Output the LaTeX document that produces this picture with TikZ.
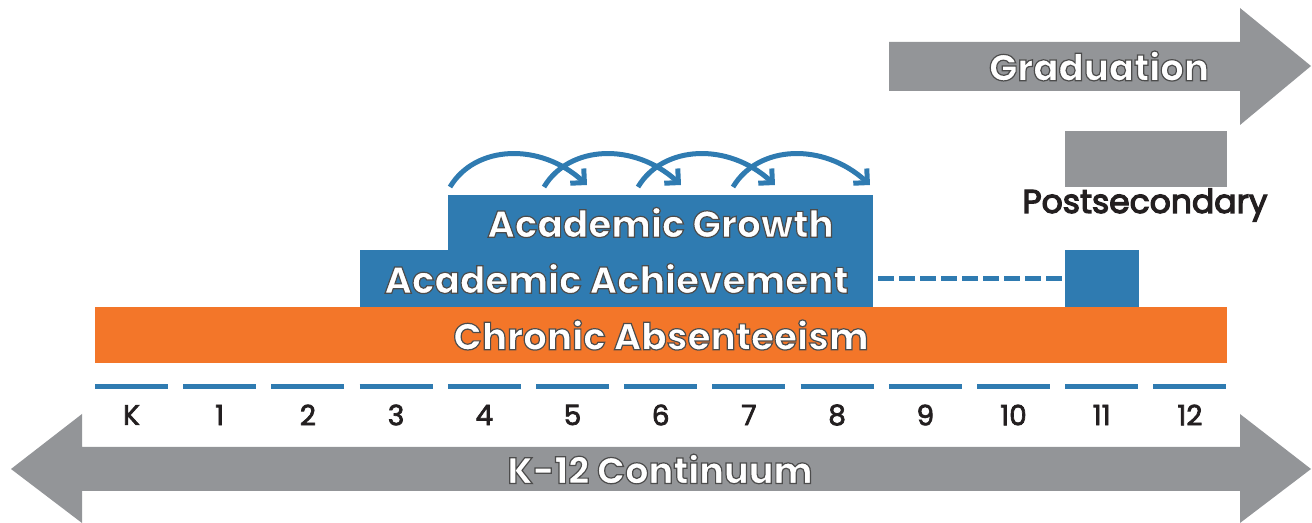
\documentclass[tikz,border=0pt]{standalone}
\usepackage{fontspec}
\setmainfont{Poppins}
\usetikzlibrary{arrows.meta}

\definecolor{cblue}{HTML}{2F7BB1}
\definecolor{corange}{HTML}{F37629}
\definecolor{cgray}{HTML}{939598}
\definecolor{ctext}{HTML}{231F20}

% white letters with a thin dark rim
\newcommand{\rimtext}[1]{{\bfseries\color{white}\special{pdf:literal direct 2 Tr 0.6 w 0.3 0.3 0.3 RG}#1\special{pdf:literal direct 0 Tr}}}
% slightly heavier dark letters
\newcommand{\heavytext}[2]{{\color{ctext}\special{pdf:literal direct 2 Tr #1 w}#2\special{pdf:literal direct 0 Tr}}}

\tikzset{
  band/.style={inner sep=0pt, outer sep=0pt, anchor=north west},
  bandtext/.style={font=\fontsize{18.7}{19}\selectfont},
  gradeseg/.style={cblue, line width=2.5pt},
  gradelbl/.style={font=\fontsize{14}{14}\selectfont, text=ctext},
  hop/.style={cblue, line width=2.5pt, -{Straight Barb[length=5pt, width=10pt]}},
}

\begin{document}
\begin{tikzpicture}[x=0.5pt, y=-0.5pt]
\useasboundingbox (0,0) rectangle (1312,523);

% graduation arrow
\fill [cgray] (889,42) -- (1240,42) -- (1240,8) -- (1311,66) -- (1240,125) -- (1240,91) -- (889,91) -- cycle;
\node [font=\fontsize{18.6}{19}\selectfont] (grad) at (1099,66) {\rimtext{Graduation}};

% postsecondary
\node [band, fill=cgray, minimum width=81pt, minimum height=28pt] (post) at (1065,131) {};
\node [font=\fontsize{16.5}{17}\selectfont] (postlbl) at (1145,205) {\heavytext{0.6}{Postsecondary}};

% blue bands
\node [band, fill=cblue, minimum width=212.5pt, minimum height=27.5pt, bandtext] (growth) at (448,195) {\rimtext{Academic Growth}};
\node [band, fill=cblue, minimum width=256.5pt, minimum height=28.5pt, bandtext] (achieve) at (360,250) {\rimtext{Academic Achievement}};
\node [band, fill=cblue, minimum width=37pt, minimum height=28.5pt] (eleven) at (1065,250) {};

\draw [cblue, line width=2.5pt, dash pattern=on 8pt off 2.5pt] ([xshift=2.5pt]achieve.east) -- (eleven.west);

% growth hops
\foreach \s in {450,544,638,733}
  \draw [hop] (\s,187) .. controls +(25,-42) and +(-47,-43) .. (\s+137,185);

% absenteeism
\node [band, fill=corange, minimum width=566pt, minimum height=28pt, bandtext] (absent) at (95,307) {\rimtext{Chronic Absenteeism}};

% grades
\foreach \g [count=\i from 0] in {K,1,2,3,4,5,6,7,8,9,10,11,12} {
  \draw [gradeseg] (95+88.2*\i,387) -- ++(73,0);
  \node [gradelbl] (g\i) at (131.5+88.2*\i,415) {\heavytext{0.35}{\g}};
}

% continuum arrow
\fill [cgray] (82,447) -- (1240,447) -- (1240,414) -- (1311,469) -- (1240,523) -- (1240,491)
  -- (82,491) -- (82,523) -- (11,469) -- (82,414) -- cycle;
\node [font=\fontsize{18.4}{19}\selectfont] (cont) at (660,469) {\rimtext{K-12 Continuum}};

\end{tikzpicture}
\end{document}
